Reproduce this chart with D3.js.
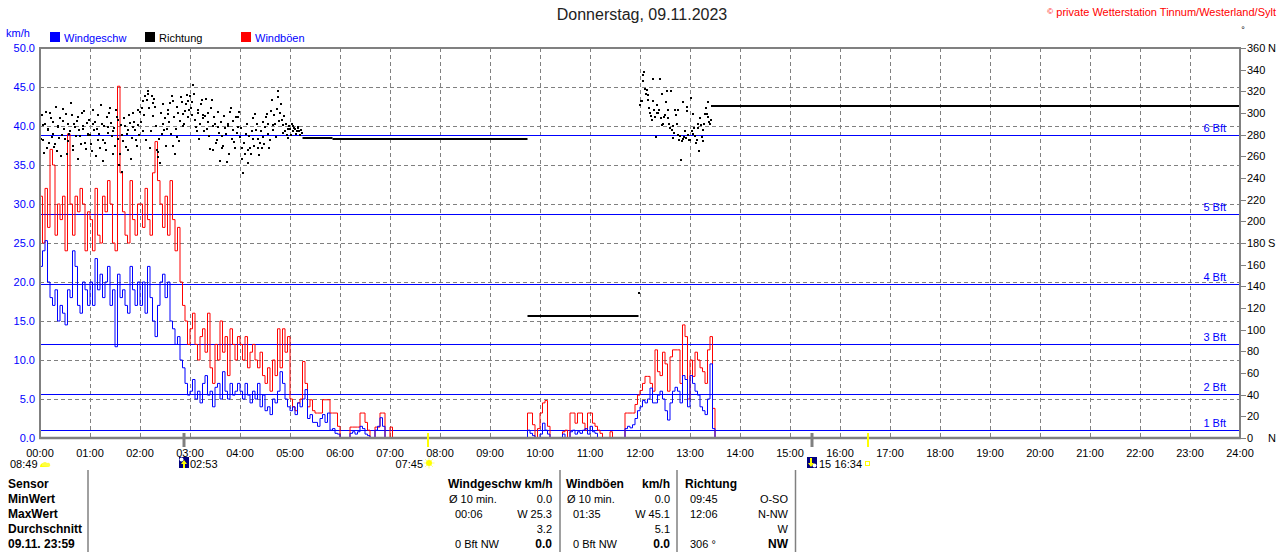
<!DOCTYPE html>
<html><head><meta charset="utf-8">
<script src="https://cdn.jsdelivr.net/npm/d3@7"></script>
<style>
body{margin:0;background:#fff;}
svg{display:block;font-family:"Liberation Sans",Arial,sans-serif;}
</style></head><body>
<svg id="c" width="1280" height="552"></svg>
<script>
// ---------- data ----------
const hourTicks = d3.range(0, 25);
const speedTicks = [0, 5, 10, 15, 20, 25, 30, 35, 40, 45, 50];
const dirTicks = d3.range(0, 361, 20);
const dirLetters = [[360, "N"], [180, "S"], [0, "N"]];
const bftLevels = [1.0, 5.7, 12.1, 19.7, 28.7, 38.8];
const bftLabels = ["1 Bft", "2 Bft", "3 Bft", "4 Bft", "5 Bft", "6 Bft"];

// wind values, one every 3 minutes from 00:00 (km/h)
const stepMin = 3;
const gust = [
  31,25,32,27,37,35,26,30,28,31,24,39,30,26,31,29,32,30,24,29,
  28,24,32,26,25,31,29,33,30,25,24,45.1,34,29,26,25,33,28,26,30,
  30,27,32,28,26,34,38,33,30,27,31,26,33,28,24,27,20,17,15,12,
  14,16,12,10,13,14,11,16,9,7,12,10,15,11,13,8,14,12,10,13,
  12,10,13,9,11,12,10,9,11,8,7,9,6,10,8,14,9,14,11,13,
  5,4,3.5,4.5,5,9.8,7,4,4.9,3.5,3.2,3.2,3.2,4.9,4.9,4.9,3.2,3.2,3.2,1.5,
  0,0,0,0,1.4,1.4,1.4,1.4,3.2,3.2,2,1,0,0,1.4,1.4,3.2,3.2,0,0,
  1.4,0,0,0,0,0,0,0,0,0,0,0,0,0,0,0,0,0,0,0,
  0,0,0,0,0,0,0,0,0,0,0,0,0,0,0,0,0,0,0,0,
  0,0,0,0,0,0,0,0,0,0,0,0,0,0,0,3.2,3.2,1.7,0,1.2,
  3.2,4.5,4.8,1.5,0,0,0,0,0,0.8,1,0,3.2,3.2,1.9,3.2,3.2,1.9,1,3.2,
  3.2,1.9,1.5,1,0.6,0,0,0,0.8,0,0,0,0,0,3.2,3.2,3.2,3.2,4.3,5.5,
  6.1,7,7.9,7.9,7,6,11.3,8.5,8,11,9.5,6,10.4,11.3,11.3,11.3,7,14.5,13,5,
  10,7.9,11,10,9,8.5,7,11.3,13,3.8,0
];
const speed = [
  22,24,25.3,20,18,17,19,15,17,16,14.5,19,18,24,22,17,16,20,19,17,
  20,17,23,19,21,18,20,22,17,19,11.7,21,18,19,17,16,22,19,17,20,
  17,20,16,22,18,15,13,17,20,21,18,20,15,14,12,13,10,9,7,5.5,
  6,7.5,5,6,4.5,7,8,5.5,6,4,6.5,7,5,8.5,6,5,7,5.5,6,7,
  6,5,7,5.5,4.5,6,5,7,4,5.5,3.5,4,3,5,4.5,6,8.5,7,5,4,
  3.5,4,3,4.5,4,5,6.2,2.5,3,2,2,1.5,2.5,3,2,3.2,1,1.2,0.6,0.5,
  0,0,0,0,0.6,0.8,0.5,0.8,1.5,1.2,0.5,0.3,0,0,1,1.5,2.6,1.5,0,0,
  0,0,0,0,0,0,0,0,0,0,0,0,0,0,0,0,0,0,0,0,
  0,0,0,0,0,0,0,0,0,0,0,0,0,0,0,0,0,0,0,0,
  0,0,0,0,0,0,0,0,0,0,0,0,0,0,0,1,0.6,0.3,0,0,
  0.5,1.9,1,0.5,0,0,0,0,0,0.5,0,0,0.8,1,0.5,0.8,0.6,1,1.2,0.5,
  1.5,0.8,0.6,0,0,0,0,0,0,0,0,0,0,0,1.2,1.5,1.3,1.7,2.5,3.5,
  4,4.8,4.5,5,6.4,4.5,4.5,5.5,6,5,3.5,2.3,4.5,6,6.5,6,4.5,8,7.5,4,
  8,7,6,5.5,4,3.5,3,5,9.5,1.2,0
];

// wind direction (degrees): morning at even minutes from 00:00 and odd minutes from 00:01
const dirAMStep = 2;
const dirAM = [
  282,298,275,290,268,285,300,278,292,271,265,288,295,280,304,276,262,290,283,298,270,287,293,258,279,300,285,272,291,281,
  280,265,303,292,285,275,268,290,256,272,296,287,305,279,283,270,296,294,262,246,274,288,281,266,291,277,300,284,270,289,
  301,305,283,316,312,318,268,316,309,306,266,264,254,281,290,295,285,299,309,316,270,262,278,300,293,310,288,302,317,311,
  316,310,326,294,283,303,290,312,298,297,285,300,267,312,266,290,275,287,256,279,270,286,255,288,301,276,293,268,282,296,
  278,268,245,262,290,254,268,283,276,299,290,268,272,268,278,287,299,290,275,312,284,290,304,320,300,294,289,283,280,277,
  285,290,283,285,283,286,280,282
];
const dirAMOdd = [
  276,289,263,301,284,272,295,281,269,306,287,277,260,293,285,299,274,281,309,266,290,279,296,284,271,288,302,267,280,294,
  271,290,284,260,298,281,307,275,288,266,282,300,291,262,286,303,276,252,289,280,295,269,284,298,258,287,292,275,303,280,
  292,311,298,275,320,305,283,297,313,288,259,276,300,308,284,270,303,292,281,311,296,285,306,274,315,299,290,308,296,303,
  305,298,318,287,300,276,308,295,283,313,292,279,305,288,296,272,301,282,292,268,297,281,290,262,305,284,273,296,287,301,
  286,258,272,281,266,279,262,295,270,284,276,261,283,292,271,296,281,268,302,289,298,278,315,293,308,282,297,290,285,288,
  280,288,286,281,287,283,284
];
// afternoon: every minute from 12:00
const dirPMStartHour = 12;
const dirPMStep = 1;
const dirPM = [
  307,311,311,335,330,338,322,318,321,312,317,305,300,297,294,311,331,303,296,278,
  307,300,300,303,331,295,289,318,290,296,298,310,320,295,303,290,286,320,284,277,
  288,282,303,298,290,303,280,275,279,257,274,276,310,278,283,277,302,306,280,275,
  275,314,283,299,281,286,279,272,275,290,286,265,295,289,278,284,274,290,299,305,
  299,310,296,292,290,294
];
// held direction while calm: [from hour, to hour, degrees]
const dirHeld = [[5.25, 5.85, 277], [5.85, 9.75, 276], [9.75, 11.97, 112.5], [13.42, 24, 306.5]];
const dirSingle = [[11.97, 134]];

// sun / moon events
const events = [
  {time: "02:53", h: 2 + 53/60, kind: "moonrise"},
  {time: "07:45", h: 7 + 45/60, kind: "sunrise"},
  {time: "15:27", h: 15 + 27/60, kind: "moonset"},
  {time: "16:34", h: 16 + 34/60, kind: "sunset"}
];
const sunshine = "08:49";

// table
const rowLabels = ["Sensor", "MinWert", "MaxWert", "Durchschnitt", "09.11.  23:59"];
const colSpeed = {head: ["Windgeschw km/h", ""], rows: [["Ø 10 min.", "0.0"], ["00:06", "W 25.3"], ["", "3.2"], ["0 Bft NW", "0.0"]]};
const colGust = {head: ["Windböen", "km/h"], rows: [["Ø 10 min.", "0.0"], ["01:35", "W 45.1"], ["", "5.1"], ["0 Bft NW", "0.0"]]};
const colDir = {head: ["Richtung", ""], rows: [["09:45", "O-SO"], ["12:06", "N-NW"], ["", "W"], ["306 °", "NW"]]};

// ---------- drawing ----------
const svg = d3.select("#c");
const L = 40, R = 1240, T = 48, B = 438;
const x = d3.scaleLinear().domain([0, 24]).range([L, R]);
const yS = d3.scaleLinear().domain([0, 50]).range([B, T]);
const yD = d3.scaleLinear().domain([0, 360]).range([B, T]);
const BLUE = "#0000ff", GRAY = "#808080";

// grid
svg.append("g").selectAll("line").data(speedTicks.filter(v => v > 0 && v < 50)).join("line")
  .attr("x1", L).attr("x2", R).attr("y1", d => Math.round(yS(d)) + 0.5).attr("y2", d => Math.round(yS(d)) + 0.5)
  .attr("stroke", GRAY).attr("stroke-dasharray", "4,3");
svg.append("g").selectAll("line").data(hourTicks.filter(h => h > 0 && h < 24)).join("line")
  .attr("x1", d => x(d) + 0.5).attr("x2", d => x(d) + 0.5).attr("y1", T).attr("y2", B)
  .attr("stroke", GRAY).attr("stroke-dasharray", "4,3");

// beaufort lines
svg.append("g").selectAll("line").data(bftLevels).join("line")
  .attr("x1", L).attr("x2", R).attr("y1", d => Math.round(yS(d)) + 0.5).attr("y2", d => Math.round(yS(d)) + 0.5)
  .attr("stroke", BLUE).attr("stroke-width", 1);
svg.append("g").selectAll("text").data(bftLevels).join("text")
  .attr("x", 1226).attr("y", d => Math.round(yS(d)) - 3).attr("text-anchor", "end")
  .attr("font-size", 11).attr("fill", BLUE).text((d, i) => bftLabels[i]);

// wind series
const pts = arr => arr.map((v, i) => ({t: i * stepMin / 60, v}));
const line = d3.line().x(d => x(d.t)).y(d => yS(d.v)).curve(d3.curveStepAfter);
svg.append("path").datum(pts(gust)).attr("d", line).attr("fill", "none").attr("stroke", "#ff0000").attr("stroke-width", 1);
svg.append("path").datum(pts(speed)).attr("d", line).attr("fill", "none").attr("stroke", BLUE).attr("stroke-width", 1);

// direction
const dirPts = dirAM.map((v, i) => ({t: i * dirAMStep / 60, v}))
  .concat(dirAMOdd.map((v, i) => ({t: (1 + i * dirAMStep) / 60, v})))
  .concat(dirPM.map((v, i) => ({t: dirPMStartHour + i * dirPMStep / 60, v})))
  .concat(dirSingle.map(d => ({t: d[0], v: d[1]})));
svg.append("g").selectAll("rect").data(dirPts).join("rect")
  .attr("x", d => Math.round(x(d.t)) - 1).attr("y", d => Math.round(yD(d.v)) - 1)
  .attr("width", 2).attr("height", 2).attr("fill", "#000");
svg.append("g").selectAll("line").data(dirHeld).join("line")
  .attr("x1", d => x(d[0])).attr("x2", d => x(d[1])).attr("y1", d => Math.round(yD(d[2]))).attr("y2", d => Math.round(yD(d[2])))
  .attr("stroke", "#000").attr("stroke-width", 2);

// frame
svg.append("path").attr("d", `M${L},${B}V${T}H${R}V${B}`).attr("fill", "none").attr("stroke", GRAY).attr("stroke-width", 2);
svg.append("line").attr("x1", L - 1).attr("x2", R + 1).attr("y1", B).attr("y2", B).attr("stroke", GRAY).attr("stroke-width", 2.5);

// left axis labels
svg.append("g").selectAll("text").data(speedTicks).join("text")
  .attr("x", 35).attr("y", d => yS(d) + 4).attr("text-anchor", "end")
  .attr("font-size", 11).attr("fill", BLUE).text(d => d3.format(".1f")(d));
svg.append("text").attr("x", 6).attr("y", 37).attr("font-size", 11).attr("fill", BLUE).text("km/h");

// right axis
svg.append("g").selectAll("line").data(dirTicks).join("line")
  .attr("x1", R).attr("x2", R + 6).attr("y1", d => Math.round(yD(d)) + 0.5).attr("y2", d => Math.round(yD(d)) + 0.5)
  .attr("stroke", GRAY);
svg.append("g").selectAll("text").data(dirTicks).join("text")
  .attr("x", R + 7).attr("y", d => yD(d) + 4).attr("font-size", 11).attr("fill", "#000").text(d => d);
svg.append("g").selectAll("text").data(dirLetters).join("text")
  .attr("x", R + 28).attr("y", d => yD(d[0]) + 4).attr("font-size", 11).attr("fill", "#000").text(d => d[1]);
svg.append("text").attr("x", 1243).attr("y", 33).attr("font-size", 9).attr("text-anchor", "middle").text("°");

// bottom axis labels
svg.append("g").selectAll("text").data(hourTicks).join("text")
  .attr("x", d => x(d)).attr("y", 457).attr("text-anchor", "middle").attr("font-size", 11)
  .text(d => d3.format("02d")(d) + ":00");

// event markers
const ev = svg.append("g");
events.forEach(e => {
  const ex = Math.round(x(e.h));
  const isMoon = e.kind.startsWith("moon");
  ev.append("line").attr("x1", ex).attr("x2", ex).attr("y1", 433).attr("y2", 447)
    .attr("stroke", isMoon ? GRAY : "#ffff00").attr("stroke-width", isMoon ? 3 : 2);
});
// moonrise: icon then time
(function () {
  const e = events[0], ex = Math.round(x(e.h));
  const g = ev.append("g").attr("transform", `translate(${ex - 5},457)`);
  g.append("rect").attr("width", 10).attr("height", 11).attr("fill", "#000080");
  g.append("circle").attr("cx", 2.5).attr("cy", 2.5).attr("r", 2).attr("fill", "#fff");
  g.append("path").attr("d", "M5,3L8,7H6V11H4V7H2Z").attr("fill", "#ffff00");
  ev.append("text").attr("x", ex + 6).attr("y", 468).attr("font-size", 11).text(e.time);
})();
// sunrise: time then sun
(function () {
  const e = events[1], ex = Math.round(x(e.h));
  ev.append("text").attr("x", ex - 5).attr("y", 468).attr("text-anchor", "end").attr("font-size", 11).text(e.time);
  const g = ev.append("g").attr("transform", `translate(${ex + 1},463)`);
  d3.range(8).forEach(k => {
    const a = k * Math.PI / 4;
    g.append("line").attr("x1", Math.cos(a) * 3).attr("y1", Math.sin(a) * 3).attr("x2", Math.cos(a) * 5.5).attr("y2", Math.sin(a) * 5.5)
      .attr("stroke", "#ffff80").attr("stroke-width", 1);
  });
  g.append("circle").attr("r", 3).attr("fill", "#ffff00");
})();
// moonset: icon, truncated time, then sunset
(function () {
  const e = events[2], ex = Math.round(x(e.h));
  const g = ev.append("g").attr("transform", `translate(${ex - 5},457)`);
  g.append("rect").attr("width", 10).attr("height", 11).attr("fill", "#000080");
  g.append("circle").attr("cx", 7.5).attr("cy", 8.5).attr("r", 2).attr("fill", "#fff");
  g.append("path").attr("d", "M4,10L7,6H5V1H3V6H1Z").attr("fill", "#ffff00");
  ev.append("text").attr("x", ex + 7).attr("y", 468).attr("font-size", 11).text(e.time.slice(0, 2));
  const s = events[3], sx = Math.round(x(s.h));
  ev.append("rect").attr("x", sx - 34).attr("y", 457).attr("width", 30).attr("height", 12).attr("fill", "#fff");
  ev.append("text").attr("x", sx - 6).attr("y", 468).attr("text-anchor", "end").attr("font-size", 11).text(s.time);
  ev.append("rect").attr("x", sx - 2.5).attr("y", 461.5).attr("width", 4).attr("height", 4).attr("fill", "none").attr("stroke", "#ffff00");
})();
// sunshine duration
svg.append("text").attr("x", 10).attr("y", 468).attr("font-size", 11).text(sunshine);
svg.append("path").attr("d", "M40,467A4,4 0 0 1 48,467Z").attr("fill", "#ffff00");
svg.append("path").attr("d", "M42,466A3,3 0 0 1 47,463A2,2 0 0 1 49,467Z").attr("fill", "#ffff40");

// legend
const legend = [["Windgeschw", BLUE, BLUE, 50], ["Richtung", "#000", "#000", 145], ["Windböen", "#ff0000", BLUE, 241]];
legend.forEach(d => {
  svg.append("rect").attr("x", d[3]).attr("y", 32).attr("width", 10).attr("height", 10).attr("fill", d[1]);
  svg.append("text").attr("x", d[3] + 14).attr("y", 42).attr("font-size", 11).attr("fill", d[2]).text(d[0]);
});

// title and copyright
svg.append("text").attr("x", 642).attr("y", 20).attr("text-anchor", "middle").attr("font-size", 16).attr("fill", "#222")
  .text("Donnerstag, 09.11.2023");
const cp = svg.append("text").attr("x", 1276).attr("y", 16).attr("text-anchor", "end").attr("fill", "#ff0000").attr("font-size", 11);
cp.append("tspan").attr("font-size", 8).attr("dy", -2).text("©");
cp.append("tspan").attr("dy", 2).text(" private Wetterstation Tinnum/Westerland/Sylt");

// table
const rowY = [488, 503, 518, 533, 548];
const tbl = svg.append("g").attr("font-size", 11);
[88, 560, 677, 795.5].forEach(sx => {
  tbl.append("line").attr("x1", sx).attr("x2", sx).attr("y1", 470).attr("y2", 552).attr("stroke", GRAY).attr("stroke-width", 1.5);
});
rowLabels.forEach((t, i) => tbl.append("text").attr("x", 8).attr("y", rowY[i]).attr("font-weight", "bold").attr("font-size", 12).text(t));
function column(c, lx, rx, indent, lastBold) {
  tbl.append("text").attr("x", lx).attr("y", rowY[0]).attr("font-weight", "bold").attr("font-size", 12).text(c.head[0]);
  if (c.head[1]) tbl.append("text").attr("x", rx).attr("y", rowY[0]).attr("text-anchor", "end").attr("font-weight", "bold").attr("font-size", 12).text(c.head[1]);
  c.rows.forEach((r, i) => {
    const lxx = (i === 0) ? lx + indent[0] : lx + indent[1];
    if (r[0]) tbl.append("text").attr("x", lxx).attr("y", rowY[i + 1]).text(r[0]);
    const t = tbl.append("text").attr("x", rx).attr("y", rowY[i + 1]).attr("text-anchor", "end").text(r[1]);
    if (i === 3 && lastBold) t.attr("font-weight", "bold").attr("font-size", 12);
  });
}
column(colSpeed, 448, 552, [1, 7], true);
column(colGust, 566, 670, [1, 7], true);
column(colDir, 685, 788, [5, 5], true);
</script>
</body></html>
